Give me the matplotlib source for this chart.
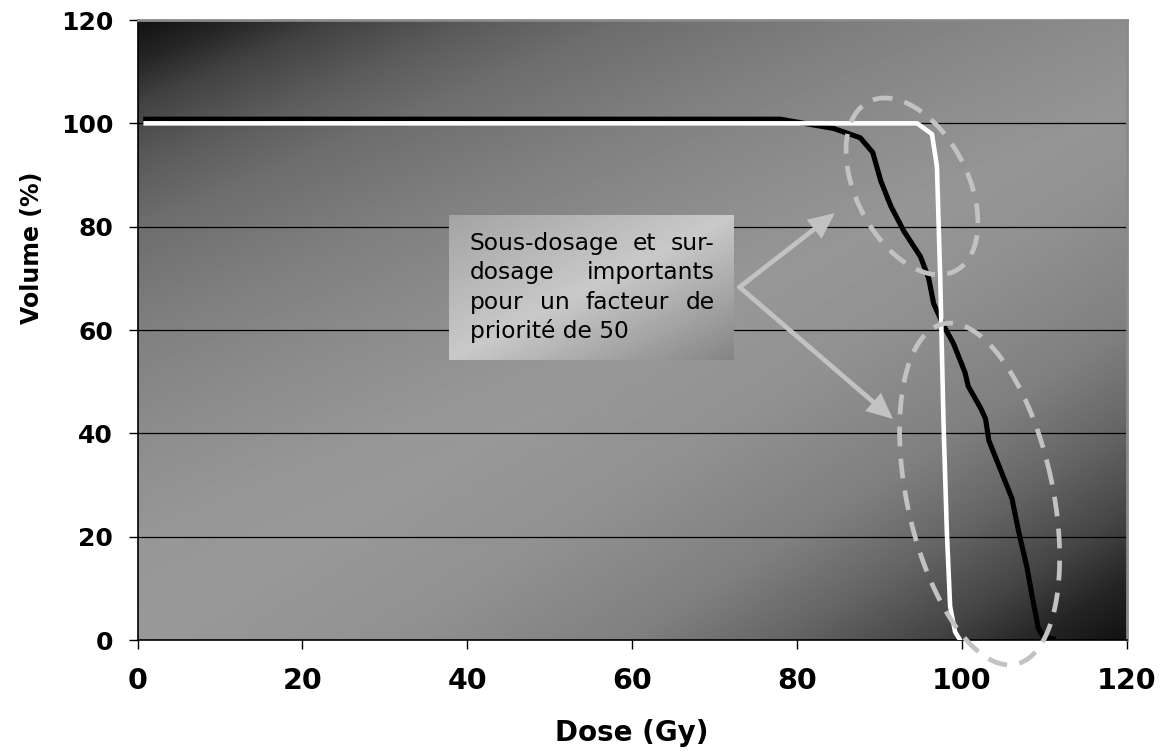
import numpy as np
import matplotlib
matplotlib.use("Agg")
import matplotlib.pyplot as plt
from matplotlib.patches import FancyArrowPatch

plt.rcParams["font.family"] = ["DejaVu Sans"]

# ---- data ----
dose_ref = [1, 78, 84.5, 87.7, 89.2, 90.2, 91.4, 93.0, 95.0, 96.0, 96.6, 97.8, 99.0,
            100.4, 100.8, 102.3, 102.9, 103.3, 104.7, 106.1, 106.9, 107.9, 108.7,
            109.3, 109.9, 111.1]
vol_ref = [100.8, 100.8, 99.0, 97.2, 94.4, 88.8, 84.0, 79.1, 74.2, 70.0, 65.1, 60.9, 57.4,
           51.8, 49.1, 44.9, 42.8, 38.6, 33.0, 27.4, 21.1, 14.2, 7.2,
           2.3, 0.6, 0.2]

dose_opt = [1, 94.6, 96.4, 97.0, 97.4, 97.8, 98.2, 98.6, 99.2, 99.8]
vol_opt = [100, 100, 97.9, 91.6, 70, 42, 21, 6.5, 1.6, 0]

x_ticks = [0, 20, 40, 60, 80, 100, 120]
y_ticks = [0, 20, 40, 60, 80, 100, 120]

note_lines = ["Sous-dosage et sur-", "dosage importants", "pour un facteur de", "priorité de 50"]

GREY_MARK = "#c2c2c2"


def ellipse_points(ax, center, a_px, b_px, angle_deg, n=400):
    # ellipse defined in pixel space (so the tilt is not distorted by the axes aspect)
    cx, cy = ax.transData.transform(center)
    t = np.linspace(0, 2 * np.pi, n)
    th = np.deg2rad(angle_deg)
    ex, ey = a_px * np.cos(t), b_px * np.sin(t)
    px = cx + ex * np.cos(th) - ey * np.sin(th)
    py = cy + ex * np.sin(th) + ey * np.cos(th)
    return ax.transData.inverted().transform(np.column_stack([px, py]))


def justified_text(ax, lines, x0, x1, y0, dy, **kw):
    renderer = ax.figure.canvas.get_renderer()
    px_per_unit = ax.transData.transform((1, 0))[0] - ax.transData.transform((0, 0))[0]
    for i, line in enumerate(lines):
        y = y0 - i * dy
        words = line.split()
        if i == len(lines) - 1 or len(words) == 1:
            ax.text(x0, y, line, **kw)
            continue
        arts = [ax.text(x0, y, w, **kw) for w in words]
        widths = [a.get_window_extent(renderer).width / px_per_unit for a in arts]
        gap = (x1 - x0 - sum(widths)) / (len(words) - 1)
        pos = x0
        for a, w in zip(arts, widths):
            a.set_x(pos)
            pos += w + gap


fig = plt.figure(figsize=(11.62, 7.56), dpi=100)
ax = fig.add_axes([137.5 / 1162, 116 / 756, 989 / 1162, 620 / 756])

# background: dark top-left and bottom-right corners, light band in between
n = 400
U, V = np.meshgrid(np.linspace(0, 1, n), np.linspace(0, 1, n))
p = U + 1.5 * (1 - V)
q = (1 - U) + V
f_tl = np.interp(p, [0, .1, .2, .35, .5, .75, 1.0, 1.25, 1.5], [.07, .15, .26, .36, .43, .5, .55, .59, .6])
f_br = np.interp(q, [0, .1, .2, .35, .5, .75, 1.0], [.07, .15, .27, .4, .5, .57, .6])
bg = np.minimum(f_tl, f_br)
ax.imshow(bg, cmap="gray", vmin=0, vmax=1, extent=(0, 120, 0, 120), origin="lower",
          aspect="auto", zorder=0, interpolation="bilinear")

# note box with its own gradient
s = (U + 1 - V) / 2
box_grad = np.interp(s, [0, 0.5, 1], [0.64, 0.79, 0.52])
ax.imshow(box_grad, cmap="gray", vmin=0, vmax=1, extent=(37.8, 72.3, 54.2, 82.1),
          origin="lower", aspect="auto", zorder=2, interpolation="bilinear")

ax.set_xlim(0, 120)
ax.set_ylim(0, 120)

ax.plot(dose_ref, vol_ref, color="black", lw=3.7, zorder=4, solid_joinstyle="round")
ax.plot(dose_opt, vol_opt, color="white", lw=3.3, zorder=5, solid_joinstyle="round")

# dashed highlight ellipses
for center, a, b, ang in [((93.97, 87.8), 56, 95, 27), ((102.18, 28.26), 73, 174, 12)]:
    pts = ellipse_points(ax, center, a, b, ang)
    ax.plot(pts[:, 0], pts[:, 1], color=GREY_MARK, lw=3.4, linestyle=(0, (4.2, 2.6)),
            dash_capstyle="butt", zorder=6, clip_on=False)

# arrows from the note
for tip in [(84.6, 82.6), (91.65, 42.8)]:
    ax.add_patch(FancyArrowPatch((73.05, 68.3), tip, arrowstyle="-|>,head_length=1.3,head_width=0.6",
                                 mutation_scale=10, color=GREY_MARK, lw=3.4, shrinkA=0, shrinkB=0,
                                 joinstyle="miter", zorder=7))

justified_text(ax, note_lines, 40.33, 70.0, 75.5, 5.7, fontsize=16.8, color="black",
               va="baseline", ha="left", zorder=8)

ax.set_axisbelow(True)
ax.set_yticks(y_ticks)
ax.set_xticks(x_ticks)
ax.yaxis.grid(True, color="black", lw=0.9)
ax.tick_params(direction="out", length=6.5, width=1, color="black")
ax.tick_params(axis="y", pad=11, labelsize=18)
ax.tick_params(axis="x", pad=13, labelsize=20.5)
for lbl in ax.get_xticklabels() + ax.get_yticklabels():
    lbl.set_fontweight("bold")

ax.set_xlabel("Dose (Gy)", fontsize=20, fontweight="bold")
ax.set_ylabel("Volume (%)", fontsize=17, fontweight="bold")
ax.xaxis.set_label_coords(0.5, -0.127)
ax.yaxis.set_label_coords(-0.0946, 0.632)

for side in ["left", "bottom"]:
    ax.spines[side].set_color("black")
    ax.spines[side].set_linewidth(1.2)
for side in ["top", "right"]:
    ax.spines[side].set_color("#8a8a8a")
    ax.spines[side].set_linewidth(2)

fig.savefig("out.png", dpi=100)
